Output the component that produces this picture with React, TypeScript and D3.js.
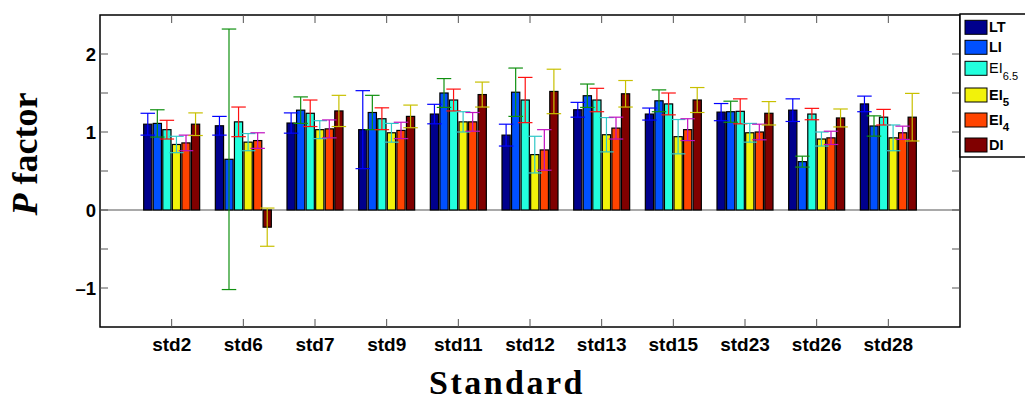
import React from 'react';
import * as d3 from 'd3';

const categories = ['std2', 'std6', 'std7', 'std9', 'std11', 'std12', 'std13', 'std15', 'std23', 'std26', 'std28'];
const seriesNames = ['LT', 'LI', 'EI6.5', 'EI5', 'EI4', 'DI'];

const LT = [1.10, 1.08, 1.115, 1.03, 1.23, 0.96, 1.285, 1.23, 1.255, 1.28, 1.36];
const LTerr = [0.14, 0.12, 0.13, 0.50, 0.125, 0.14, 0.095, 0.077, 0.11, 0.145, 0.10];
const LI = [1.11, 0.65, 1.28, 1.25, 1.50, 1.51, 1.465, 1.40, 1.26, 0.62, 1.077];
const LIerr = [0.175, 1.67, 0.17, 0.22, 0.185, 0.31, 0.15, 0.14, 0.135, 0.07, 0.13];
const EI65 = [1.03, 1.13, 1.24, 1.17, 1.41, 1.41, 1.41, 1.36, 1.265, 1.23, 1.19];
const EI65err = [0.12, 0.19, 0.17, 0.14, 0.14, 0.29, 0.15, 0.14, 0.16, 0.073, 0.10];
const EI5 = [0.84, 0.87, 1.03, 0.99, 1.13, 0.71, 0.965, 0.94, 0.99, 0.91, 0.925];
const EI5err = [0.105, 0.11, 0.115, 0.12, 0.13, 0.235, 0.22, 0.22, 0.12, 0.09, 0.165];
const EI4 = [0.86, 0.89, 1.04, 1.02, 1.13, 0.77, 1.05, 1.03, 1.00, 0.925, 0.99];
const EI4err = [0.10, 0.10, 0.115, 0.105, 0.12, 0.26, 0.14, 0.14, 0.10, 0.085, 0.085];
const DI = [1.10, -0.22, 1.27, 1.20, 1.48, 1.52, 1.49, 1.41, 1.24, 1.18, 1.19];
const DIerr = [0.145, 0.245, 0.20, 0.145, 0.16, 0.285, 0.17, 0.16, 0.15, 0.115, 0.305];

const values = [LT, LI, EI65, EI5, EI4, DI];
const errors = [LTerr, LIerr, EI65err, EI5err, EI4err, DIerr];
const fillColors = ['#00008c', '#0050ff', '#22ffdd', '#f2f20a', '#ff4400', '#800000'];
const errColors = ['#0000ff', '#109010', '#ff1010', '#30c8c8', '#c010c0', '#c8c000'];

const yMajorTicks = [-1, 0, 1, 2];
const yAllTicks = [-1, -0.5, 0, 0.5, 1, 1.5, 2];

const W = 1025;
const H = 401;
const L = 100, R = 960, T = 15, B = 327;

export default function App() {
  const x = d3.scaleLinear().domain([0, categories.length + 1]).range([L, R]);
  const y = d3.scaleLinear().domain([-1.5, 2.5]).range([B, T]);
  const groupW = (x(1) - x(0)) * 0.8;
  const slot = groupW / seriesNames.length;
  const barW = slot * 0.86;
  const capW = 14.5;
  const tickLen = 8;
  const font = "'Liberation Sans', Arial, Helvetica, sans-serif";
  const serif = "'Liberation Serif', 'Times New Roman', serif";

  const bars: React.ReactNode[] = [];
  const errs: React.ReactNode[] = [];
  categories.forEach((c, i) => {
    values.forEach((vals, j) => {
      const v = vals[i];
      const e = errors[j][i];
      const cx = x(i + 1) + (j - (seriesNames.length - 1) / 2) * slot;
      const y0 = y(0);
      const yv = y(v);
      bars.push(
        <rect key={`b${i}-${j}`} x={cx - barW / 2} y={Math.min(y0, yv)} width={barW}
          height={Math.abs(y0 - yv)} fill={fillColors[j]} stroke="#000" strokeWidth={1.2} />
      );
      const yt = y(v + e);
      const yb = y(v - e);
      errs.push(
        <g key={`e${i}-${j}`} stroke={errColors[j]} strokeWidth={1.2}>
          <line x1={cx} x2={cx} y1={yt} y2={yb} />
          <line x1={cx - capW / 2} x2={cx + capW / 2} y1={yt} y2={yt} />
          <line x1={cx - capW / 2} x2={cx + capW / 2} y1={yb} y2={yb} />
        </g>
      );
    });
  });

  const legendY = [27.3, 47.3, 68.3, 95, 120, 145];
  const legendLabel = (k: number) => {
    const name = seriesNames[k];
    if (name === 'EI6.5') {
      return (
        <text x={989} y={legendY[k] + 5} fontFamily={font} fontSize={14.5} fill="#000">
          EI<tspan fontSize={11} dy={7}>6.5</tspan>
        </text>
      );
    }
    if (name === 'EI5' || name === 'EI4') {
      return (
        <text x={989} y={legendY[k] + 5} fontFamily={font} fontSize={14.5} fontWeight="bold" fill="#000">
          EI<tspan fontSize={11.5} dy={6}>{name.slice(2)}</tspan>
        </text>
      );
    }
    return (
      <text x={989} y={legendY[k] + 5} fontFamily={font} fontSize={14.5} fontWeight="bold" fill="#000">
        {name}
      </text>
    );
  };

  return (
    <svg width={W} height={H} style={{ position: 'absolute', left: 0, top: 0, background: '#fff' }}>
      <rect x={0} y={0} width={W} height={H} fill="#fff" />
      {/* zero line */}
      <line x1={L} x2={R} y1={y(0)} y2={y(0)} stroke="#555" strokeWidth={1.2} />
      {bars}
      {errs}
      {/* axes box */}
      <rect x={L} y={T} width={R - L} height={B - T} fill="none" stroke="#000" strokeWidth={1.5} />
      {/* y ticks */}
      {yAllTicks.map((t) => (
        <g key={`yt${t}`} stroke="#555" strokeWidth={1}>
          <line x1={L} x2={L + tickLen} y1={y(t)} y2={y(t)} />
          <line x1={R} x2={R - tickLen} y1={y(t)} y2={y(t)} />
        </g>
      ))}
      {yMajorTicks.map((t) => (
        <text key={`yl${t}`} x={96} y={y(t) + 6.5} textAnchor="end" fontFamily={font}
          fontWeight="bold" fontSize={18.5} fill="#000">
          {t < 0 ? `\u2013${Math.abs(t)}` : `${t}`}
        </text>
      ))}
      {/* x ticks */}
      {categories.map((c, i) => (
        <g key={`xt${c}`}>
          <line x1={x(i + 1)} x2={x(i + 1)} y1={B} y2={B - tickLen} stroke="#555" strokeWidth={1} />
          <line x1={x(i + 1)} x2={x(i + 1)} y1={T} y2={T + tickLen} stroke="#555" strokeWidth={1} />
          <text x={x(i + 1)} y={351} textAnchor="middle" fontFamily={font} fontWeight="bold"
            fontSize={19} fill="#000">{c}</text>
        </g>
      ))}
      {/* axis titles */}
      <text transform={`translate(37,154) rotate(-90)`} textAnchor="middle" fontFamily={serif}
        fontWeight="bold" fontSize={36} fill="#000">
        <tspan fontStyle="italic">P</tspan> factor
      </text>
      <text x={507} y={394} textAnchor="middle" fontFamily={serif} fontWeight="bold"
        fontSize={34} letterSpacing={2.5} fill="#000">Standard</text>
      {/* legend */}
      <rect x={960} y={14} width={80} height={143} fill="#fff" stroke="#000" strokeWidth={1.5} />
      {seriesNames.map((s, k) => (
        <g key={`lg${s}`}>
          <rect x={965} y={legendY[k] - 7} width={22} height={14} fill={fillColors[k]}
            stroke="#000" strokeWidth={1} />
          {legendLabel(k)}
        </g>
      ))}
    </svg>
  );
}
